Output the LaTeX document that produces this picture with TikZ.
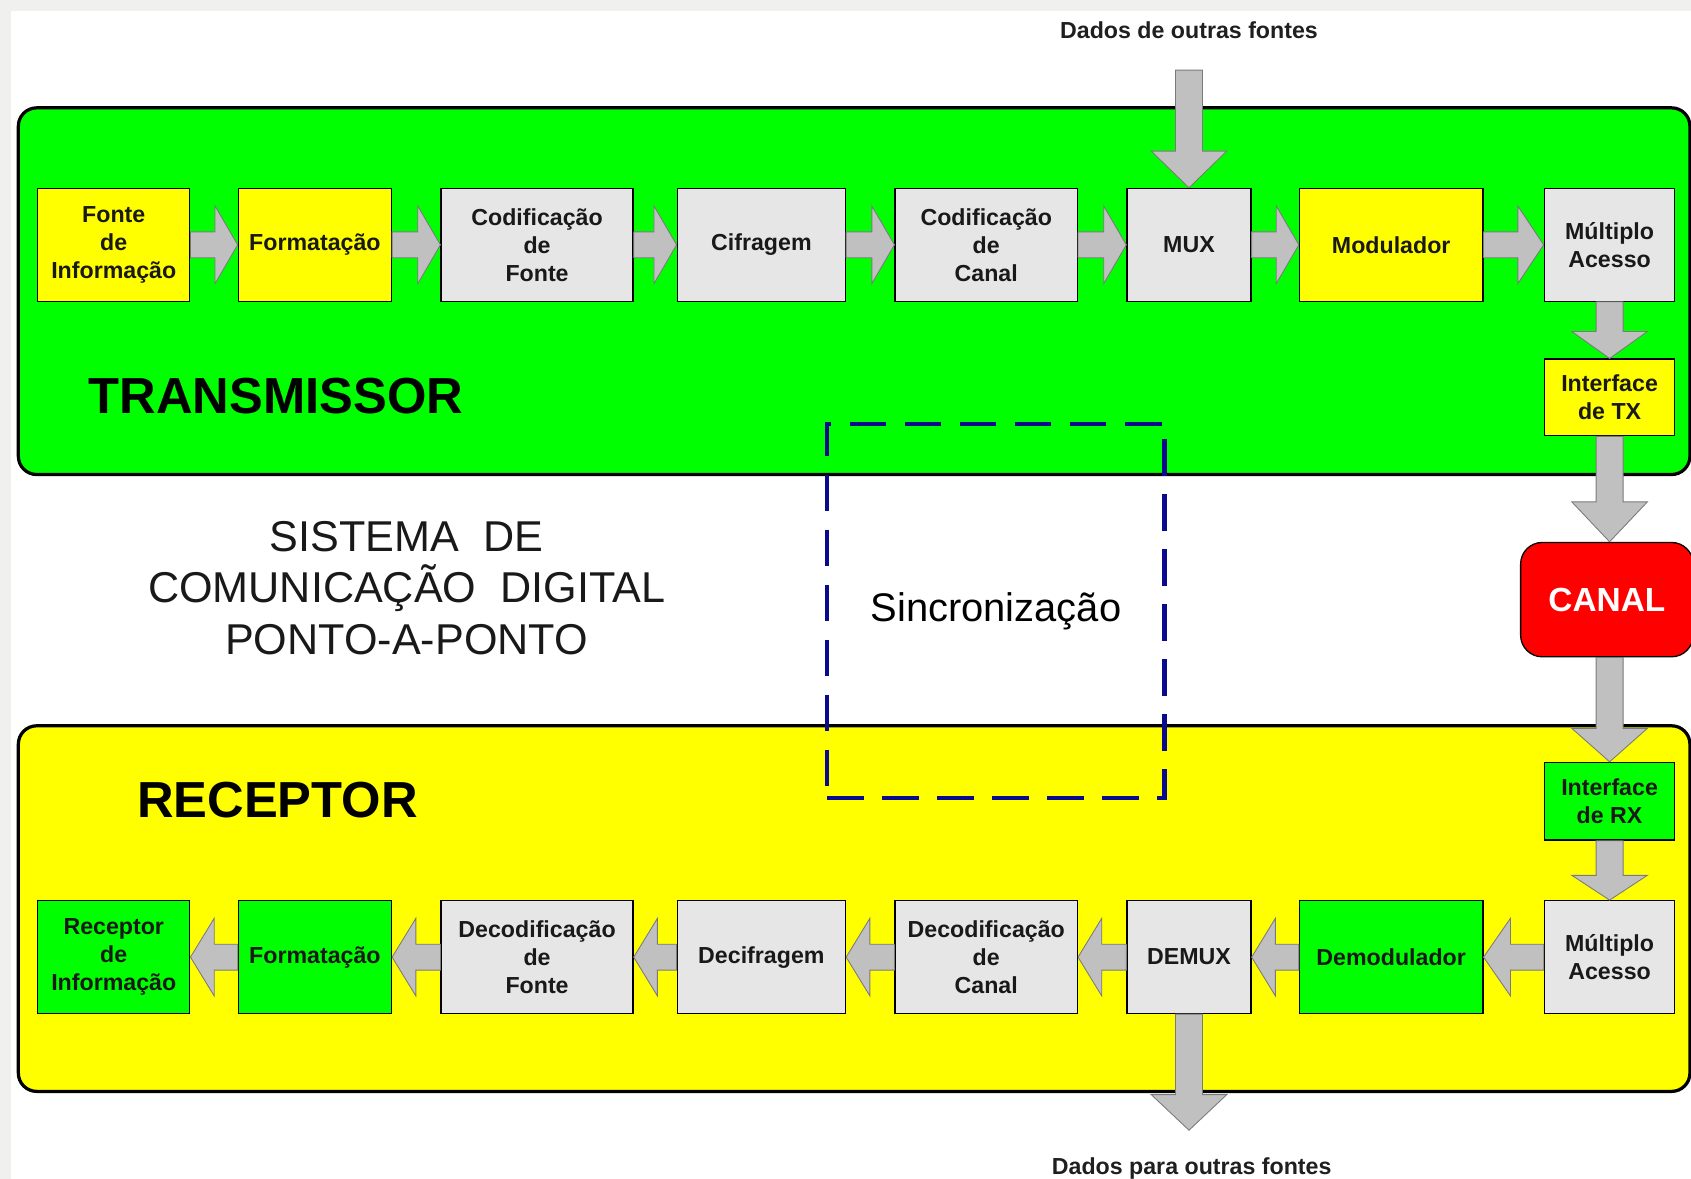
\documentclass[tikz,border=0pt]{standalone}
\usepackage{fontspec}
\setmainfont{Liberation Sans}
\usetikzlibrary{calc}
\definecolor{tgreen}{HTML}{00FF00}
\definecolor{tyellow}{HTML}{FFFF00}
\definecolor{bgray}{HTML}{E6E6E6}
\definecolor{agray}{HTML}{C0C0C0}
\definecolor{aline}{HTML}{7A7A7A}
\definecolor{syncblue}{HTML}{0A0A8C}
\definecolor{framegray}{HTML}{F0F0EE}
\definecolor{tred}{HTML}{FF0000}
\newcommand\boxfont{\fontsize{21.5}{26}\selectfont\bfseries}
% rightwards block arrow from #1.east to #2.west, head length #3
\newcommand\harr[3]{\filldraw[arr] let \p1=(#1.east), \p2=(#2.west) in
  (\x1,\y1+12pt) -- (\x2-#3,\y1+12pt) -- (\x2-#3,\y1+36pt) -- (\x2,\y1)
  -- (\x2-#3,\y1-36pt) -- (\x2-#3,\y1-12pt) -- (\x1,\y1-12pt) -- cycle;}
% leftwards block arrow from #1.west to #2.east
\newcommand\larr[3]{\filldraw[arr] let \p1=(#1.west), \p2=(#2.east) in
  (\x1,\y1+12pt) -- (\x2+#3,\y1+12pt) -- (\x2+#3,\y1+36pt) -- (\x2,\y1)
  -- (\x2+#3,\y1-36pt) -- (\x2+#3,\y1-12pt) -- (\x1,\y1-12pt) -- cycle;}
% downwards block arrow from point #1 to point #2
\newcommand\varr[3]{\filldraw[arr] let \p1=#1, \p2=#2 in
  (\x2-12.5pt,\y1) -- (\x2-12.5pt,\y2+#3) -- (\x2-35pt,\y2+#3) -- (\x2,\y2)
  -- (\x2+35pt,\y2+#3) -- (\x2+12.5pt,\y2+#3) -- (\x2+12.5pt,\y1) -- cycle;}
\begin{document}
\begin{tikzpicture}[x=1pt,y=-1pt,
  arr/.style={fill=agray, draw=aline, line width=0.8pt},
  area/.style={draw=black, line width=3pt, rounded corners=17pt, inner sep=0pt},
  box/.style={draw=black, line width=1.2pt, inner sep=0pt, align=center,
    font=\boxfont, text=black!90, minimum height=104.5pt},
  sbox/.style={draw=black, line width=1.2pt, inner sep=0pt, align=center,
    font=\boxfont, text=black!90},
  big/.style={font=\fontsize{47}{56}\selectfont\bfseries, inner sep=0pt},
  sys/.style={font=\fontsize{40}{48}\selectfont, inner sep=0pt, text=black!90},
  note/.style={font=\fontsize{21.5}{26}\selectfont\bfseries, inner sep=0pt, text=black!88},
  syncbox/.style={draw=syncblue, line width=4.2pt, dash pattern=on 34pt off 17pt,
    inner sep=0pt, font=\fontsize{37}{44}\selectfont, text=black}
]
\useasboundingbox (0,0) rectangle (1568,1093);
\fill[framegray] (0,0) rectangle (1568,1093);
\fill[white] (10,10) rectangle (1568,1093);

% areas
\node[area, fill=tgreen, minimum width=1550pt, minimum height=340pt] (txarea) at (792,270) {};
\node[area, fill=tyellow, minimum width=1550pt, minimum height=339pt] (rxarea) at (792,842.5) {};

\node[big, anchor=base west] (txlabel) at (82,383) {TRANSMISSOR};
\node[big, anchor=base west] (rxlabel) at (127,758) {RECEPTOR};

\node[sys, anchor=base] (sys1) at (377,511) {SISTEMA\ \ DE};
\node[sys, anchor=base] (sys2) at (377,559) {COMUNICAÇÃO\ \ DIGITAL};
\node[sys, anchor=base] (sys3) at (377,607) {PONTO-A-PONTO};

% transmitter row
\node[box, fill=tyellow, minimum width=141pt] (tx1) at (105.5,227) {Fonte\\de\\Informação};
\node[box, fill=tyellow, minimum width=142pt] (tx2) at (292,227) {Formatação};
\node[box, fill=bgray, minimum width=178pt] (tx3) at (498,227) {Codificação\\de\\Fonte};
\node[box, fill=bgray, minimum width=156pt] (tx4) at (706,227) {Cifragem};
\node[box, fill=bgray, minimum width=169pt] (tx5) at (914.5,227) {Codificação\\de\\Canal};
\node[box, fill=bgray, minimum width=115pt] (tx6) at (1102.5,227) {MUX};
\node[box, fill=tyellow, minimum width=170pt] (tx7) at (1290,227) {Modulador};
\node[box, fill=bgray, minimum width=121pt] (tx8) at (1492.5,227) {Múltiplo\\Acesso};
\node[sbox, fill=tyellow, minimum width=121pt, minimum height=71pt] (itx) at (1492.5,368.5) {Interface\\de TX};

% channel
\node[draw=black, line width=1.2pt, fill=tred, rounded corners=20pt, minimum width=160pt,
  minimum height=106pt, inner sep=0pt, text=white, font=\fontsize{31}{36}\selectfont\bfseries]
  (canal) at (1490,556) {CANAL};

% receiver row
\node[sbox, fill=tgreen, minimum width=121pt, minimum height=72pt] (irx) at (1492.5,743) {Interface\\de RX};
\node[box, fill=tgreen, minimum width=141pt] (rx1) at (105.5,887.5) {Receptor\\de\\Informação};
\node[box, fill=tgreen, minimum width=142pt] (rx2) at (292,887.5) {Formatação};
\node[box, fill=bgray, minimum width=178pt] (rx3) at (498,887.5) {Decodificação\\de\\Fonte};
\node[box, fill=bgray, minimum width=156pt] (rx4) at (706,887.5) {Decifragem};
\node[box, fill=bgray, minimum width=169pt] (rx5) at (914.5,887.5) {Decodificação\\de\\Canal};
\node[box, fill=bgray, minimum width=115pt] (rx6) at (1102.5,887.5) {DEMUX};
\node[box, fill=tgreen, minimum width=170pt] (rx7) at (1290,887.5) {Demodulador};
\node[box, fill=bgray, minimum width=121pt] (rx8) at (1492.5,887.5) {Múltiplo\\Acesso};

% external data
\node[note, anchor=base] (din label) at (1102.5,36) {Dados de outras fontes};
\coordinate (din) at (1102.5,65);
\coordinate (dout) at (1102.5,1048);
\node[note, anchor=base] (dout label) at (1105,1089) {Dados para outras fontes};

% transmitter arrows
\harr{tx1}{tx2}{21pt}
\harr{tx2}{tx3}{21pt}
\harr{tx3}{tx4}{21pt}
\harr{tx4}{tx5}{21pt}
\harr{tx5}{tx6}{21pt}
\harr{tx6}{tx7}{21pt}
\harr{tx7}{tx8}{24pt}
\varr{(din)}{(tx6.north)}{34pt}
\varr{(tx8.south)}{(itx.north)}{25pt}
\varr{(itx.south)}{(itx.south |- canal.north)}{37pt}
\varr{(canal.south -| irx.north)}{(irx.north)}{31pt}
\varr{(irx.south)}{(rx8.north)}{23pt}

% receiver arrows
\larr{rx8}{rx7}{25pt}
\larr{rx7}{rx6}{22pt}
\larr{rx6}{rx5}{22pt}
\larr{rx5}{rx4}{22pt}
\larr{rx4}{rx3}{22pt}
\larr{rx3}{rx2}{22pt}
\larr{rx2}{rx1}{22pt}
\varr{(rx6.south)}{(dout)}{33pt}

% synchronisation
\node[syncbox, minimum width=313pt, minimum height=347pt] (sync) at (923.5,566.5) {Sincronização};
\end{tikzpicture}
\end{document}
